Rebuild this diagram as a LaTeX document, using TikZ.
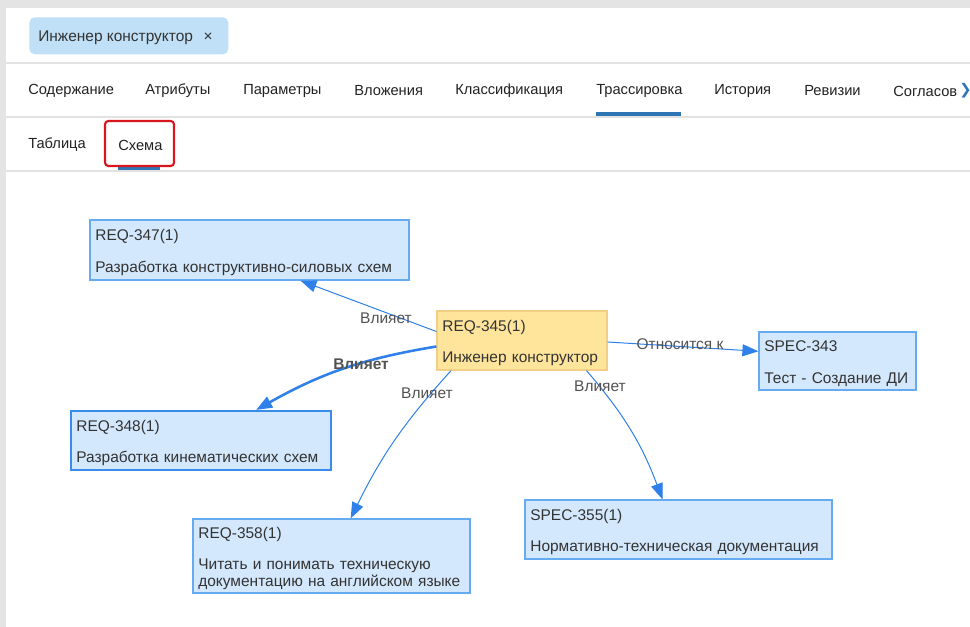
\documentclass[tikz,border=0pt]{standalone}
\usepackage{fontspec}
\setmainfont{Liberation Sans}
\newfontfamily\chevfont{DejaVu Sans}
\usetikzlibrary{arrows.meta}
\definecolor{trpage}{HTML}{E4E4E4}
\definecolor{trrule}{HTML}{E2E2E2}
\definecolor{trink}{HTML}{333333}
\definecolor{trtab}{HTML}{222222}
\definecolor{trchip}{HTML}{BFE0F6}
\definecolor{trsel}{HTML}{2E75B6}
\definecolor{trred}{HTML}{D8161E}
\definecolor{trfill}{HTML}{D3E8FC}
\definecolor{trline}{HTML}{66ABF2}
\definecolor{trline2}{HTML}{3A8CEA}
\definecolor{tryel}{HTML}{FFE59B}
\definecolor{tryelline}{HTML}{F3CF86}
\definecolor{trarrow}{HTML}{2F80EA}
\newcommand\trfont{\fontsize{11.6}{12.75}\selectfont}
\newcommand\tabfont{\fontsize{11}{13}\selectfont}
\tikzset{
  reqbox/.style={draw=trline,fill=trfill,line width=0.9pt,text=trink,align=left,
                 inner xsep=4pt,inner ysep=2pt,font=\trfont,text width=#1,
                 execute at begin node={\rule{0pt}{11.5pt}}},
  curbox/.style={reqbox=#1,draw=tryelline,fill=tryel},
  tab/.style={anchor=west,font=\tabfont,text=trtab,inner sep=0pt},
  link/.style={-{Triangle[length=12pt,width=9pt]},draw=trarrow,line width=0.75pt},
  boldlink/.style={link,line width=1.9pt},
  elab/.style={font=\trfont,text=trink!85,inner sep=0pt},
  sepline/.style={draw=trrule,line width=0.9pt},
}
\begin{document}
\begin{tikzpicture}[x=0.75pt,y=-0.75pt]
  \useasboundingbox (0,0) rectangle (970,627);
  % page frame
  \fill[trpage] (0,0) rectangle (970,627);
  \fill[white] (6,8) rectangle (970,627);

  % header chip
  \node[fill=trchip,rounded corners=4pt,minimum width=149.25pt,minimum height=27.75pt,
        anchor=north west,inner sep=0pt] (chip) at (29,17) {};
  \node[tab,font=\trfont,text=trink] (chiptxt) at (38,38) {Инженер конструктор\hspace{8pt}×};
  \draw[sepline] (6,63) -- (970,63);

  % main tabs
  \foreach \x/\t in {28/Содержание,145/Атрибуты,243/Параметры,354/Вложения,
                     455/Классификация,596/Трассировка,714/История,804/Ревизии,893/Согласов}
    \node[tab] (tab\x) at (\x,91) {\t};
  \node[tab,text=trsel,font=\chevfont\tabfont] (more) at (959,91) {❯};
  \fill[trsel] (596,112) rectangle (681,116);
  \draw[sepline] (6,117) -- (970,117);

  % sub tabs
  \node[tab] (tabl) at (28,145) {Таблица};
  \node[tab] (scheme) at (118,145) {Схема};
  \fill[trsel] (118,166) rectangle (160,170);
  \draw[trred,line width=1.6pt,rounded corners=2.5pt] (105,121) rectangle (174,166);
  \draw[sepline] (6,171) -- (970,171);

  % trace graph
  \node[curbox=119.5pt,minimum height=44.25pt] (c) at (522,340.5)
    {REQ-345(1)\\[10.5pt]Инженер конструктор};
  \node[reqbox=231.25pt,minimum height=45pt] (a) at (249.5,250)
    {REQ-347(1)\\[11.25pt]Разработка конструктивно-силовых схем};
  \node[reqbox=187pt,minimum height=44.25pt,draw=trline2,line width=1.6pt] (b) at (201,440.5)
    {REQ-348(1)\\[10.5pt]Разработка кинематических схем};
  \node[reqbox=199.75pt,minimum height=55.5pt] (d) at (331.5,556)
    {REQ-358(1)\\[10.5pt]Читать и понимать техническую\\документацию на английском языке};
  \node[reqbox=222.25pt,minimum height=44.25pt] (e) at (678.5,529.5)
    {SPEC-355(1)\\[10.5pt]Нормативно-техническая документация};
  \node[reqbox=109.75pt,minimum height=43.5pt] (f) at (837.5,361)
    {SPEC-343\\[11.25pt]Тест - Создание ДИ};

  \draw[link] (c.174) -- (a.329);
  \draw[boldlink] (c.184) to[bend right=10] (b.29);
  \draw[link] (c.203) to[bend right=8] (d.63);
  \draw[link] (c.335) to[bend left=10] (e.118);
  \draw[link] (c.359) -- (f.173);

  \node[elab] (la) at (386,318) {Влияет};
  \node[elab,font=\trfont\bfseries] (lb) at (361,364) {Влияет};
  \node[elab] (ld) at (427,393) {Влияет};
  \node[elab] (le) at (600,386) {Влияет};
  \node[elab] (lf) at (680,344) {Относится к};
\end{tikzpicture}
\end{document}
